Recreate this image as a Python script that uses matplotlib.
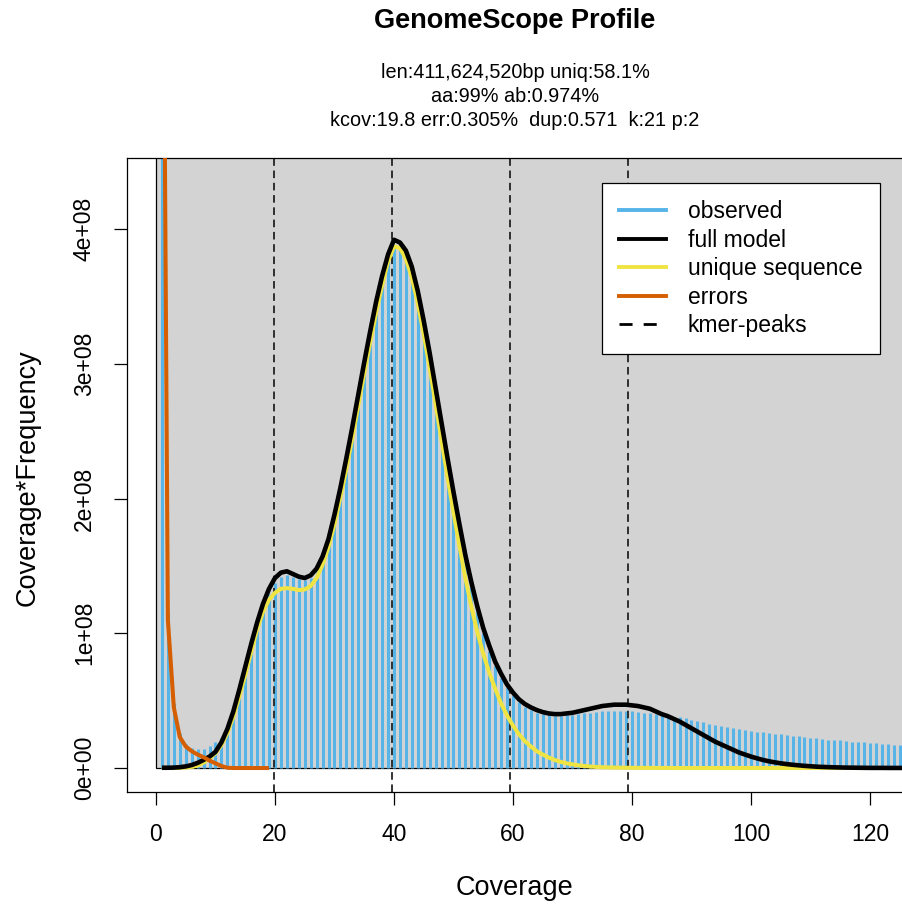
import matplotlib
matplotlib.use("Agg")
import matplotlib.pyplot as plt
from matplotlib.lines import Line2D
from matplotlib.patches import Rectangle

plt.rcParams['font.family'] = ['Liberation Sans', 'DejaVu Sans']

# GenomeScope colours
COLOR_BG = '#D3D3D3'
COLOR_HIST = '#56B4E9'
COLOR_FULL = 'black'
COLOR_UNIQUE = '#F0E442'
COLOR_ERRORS = '#D55E00'

title = "GenomeScope Profile"
summary = ["len:411,624,520bp uniq:58.1%",
           "aa:99% ab:0.974%",
           "kcov:19.8 err:0.305%  dup:0.571  k:21 p:2"]

kcov = 19.84
peak_multiples = [1, 2, 3, 4]

# coverage 1..126, values are coverage*frequency in millions
coverage = list(range(1, 127))
observed = [
    1000, 115, 48, 26, 18, 15, 14, 14, 16, 19,
    22, 30, 40, 55, 71, 88, 104, 118, 129, 137,
    142, 143, 142, 140, 139.5, 141, 146, 155, 168, 185,
    204, 225, 248, 272, 296, 319, 341, 360, 376, 387,
    386, 380, 367, 349, 328, 304, 278, 252, 226, 201,
    177, 154, 134, 116, 100, 87, 76, 67, 60, 54,
    49, 45.5, 43, 41, 40, 39, 38.5, 38.5, 39, 39.5,
    40, 40.5, 41, 41.5, 42, 42, 42.5, 42.5, 42.5, 42,
    41.5, 41, 40.5, 40, 39.5, 39, 38, 37.5, 37, 36,
    35, 34, 33, 32, 31.5, 30.5, 29.5, 29, 28, 27.5,
    27, 26.5, 26, 25.5, 25, 24.5, 24, 23.5, 23, 22.5,
    22, 21.5, 21, 20.8, 20.5, 20, 19.5, 19.2, 19, 18.6,
    18.3, 18, 17.6, 17.3, 17, 16.8]
full_model = [
    0.2, 0.2, 0.3, 0.6, 1.2, 2.2, 3.8, 6, 8.5, 12,
    19, 29, 42, 58, 75, 92, 108, 122, 133, 141,
    145, 146, 144, 142, 141, 143, 148, 157, 170, 188,
    208, 230, 253, 277, 301, 324, 346, 365, 381, 392,
    390, 384, 372, 354, 332, 308, 282, 256, 230, 205,
    181, 158, 138, 120, 104, 91, 79, 70, 62, 56,
    51, 47.5, 45, 43, 41.5, 40.5, 40, 40, 40.5, 41,
    42, 43, 44, 45, 46, 46.5, 47, 47, 47, 46.5,
    46, 45, 44, 42, 40, 38.5, 36.5, 34.5, 32, 29.5,
    27, 24.5, 22, 19.5, 17.5, 15.5, 13.5, 11.5, 10, 8.5,
    7.2, 6, 5, 4.2, 3.5, 2.9, 2.4, 2, 1.6, 1.3,
    1.0, 0.8, 0.65, 0.5, 0.4, 0.3, 0.25, 0.2, 0.15, 0.1,
    0.1, 0.1, 0.05, 0.05, 0.05, 0.05]
unique_seq = [
    0, 0, 0, 0.1, 0.3, 0.8, 1.8, 4, 7, 11,
    17, 26, 38, 53, 69, 86, 103, 116, 125, 130,
    133, 133.5, 133, 132, 132.5, 135, 141, 151, 164, 181,
    201, 222, 245, 269, 293, 316, 338, 358, 376, 387,
    386, 378, 364, 345, 322, 297, 270, 243, 216, 190,
    165, 141, 120, 101, 85, 71, 59, 48, 39, 31.5,
    25, 20, 16, 12.5, 10, 7.8, 6, 4.6, 3.5, 2.7,
    2, 1.5, 1.1, 0.8, 0.6, 0.45, 0.35, 0.25, 0.2, 0.15,
    0.1, 0.1, 0.1, 0.05, 0.05, 0.05, 0, 0, 0, 0,
    0, 0, 0, 0, 0, 0, 0, 0, 0, 0,
    0, 0, 0, 0, 0, 0, 0, 0, 0, 0,
    0, 0, 0, 0, 0, 0, 0, 0, 0, 0,
    0, 0, 0, 0, 0, 0]
error_coverage = list(range(1, 20))
errors = [800, 110, 45, 23, 16, 12.5, 10, 8, 5.5, 3.5,
          1.5, 0.2, 0, 0, 0, 0, 0, 0, 0]

xticks = [0, 20, 40, 60, 80, 100, 120]
yticks = [0, 1e8, 2e8, 3e8, 4e8]


def scaled(values):
    return [v * 1e6 for v in values]


W, H = 903, 911
fig = plt.figure(figsize=(W / 100, H / 100), dpi=100)
# right edge of the box falls just outside the picture, like the reference
ax = fig.add_axes([127 / W, (H - 792) / H, (911 - 127) / W, (792 - 158) / H])
ax.set_xlim(-4.87, 126.9)
ax.set_ylim(-17.8e6, 452.7e6)

# grey panel with black border starting at (0, 0)
ax.add_patch(Rectangle((0, 0), 200, 2e9, facecolor=COLOR_BG,
                       edgecolor='black', linewidth=0.9, zorder=0))

# observed histogram as thin vertical bars
ax.vlines(coverage, 0, scaled(observed), colors=COLOR_HIST,
          linewidth=2.2, zorder=1)

# kmer peaks
for m in peak_multiples:
    ax.axvline(kcov * m, color='#222222', linewidth=1.3,
               dashes=(4.2, 2.6), zorder=2)

ax.plot(coverage, scaled(unique_seq), color=COLOR_UNIQUE, linewidth=2.9,
        solid_capstyle='butt', zorder=3)
ax.plot(coverage, scaled(full_model), color=COLOR_FULL, linewidth=3.3,
        solid_capstyle='butt', zorder=4)
ax.plot(error_coverage, scaled(errors), color=COLOR_ERRORS, linewidth=2.9,
        solid_capstyle='butt', zorder=5)

# axes and ticks
ax.set_xticks(xticks)
ax.set_xticklabels([str(t) for t in xticks])
ax.set_yticks(yticks)
ax.set_yticklabels([f"{t:.0e}" for t in yticks], rotation=90, va='center')
ax.tick_params(direction='out', length=9.4, width=0.9, labelsize=16.5,
               pad=13)
for side in ['left', 'bottom', 'top', 'right']:
    ax.spines[side].set_linewidth(0.9)

ax.set_xlabel("Coverage", fontsize=19.5)
ax.xaxis.set_label_coords((515 - 127) / 784, (792 - 888) / 634)
ax.xaxis.label.set_va('center')
ax.set_ylabel("Coverage*Frequency", fontsize=19.5)
ax.yaxis.set_label_coords((28 - 127) / 784, (792 - 478) / 634)
ax.yaxis.label.set_va('center')

# titles
fig.text(515 / W, 1 - 21 / H, title, ha='center', va='center',
         fontsize=19.5, fontweight='bold')
for i, line in enumerate(summary):
    fig.text(515 / W, 1 - (72 + 24 * i) / H, line, ha='center',
             va='center', fontsize=14.3)

# legend
handles = [
    Line2D([], [], color=COLOR_HIST, linewidth=2.8),
    Line2D([], [], color=COLOR_FULL, linewidth=2.8),
    Line2D([], [], color=COLOR_UNIQUE, linewidth=2.8),
    Line2D([], [], color=COLOR_ERRORS, linewidth=2.8),
    Line2D([], [], color='black', linewidth=2.0, dashes=(4.7, 4.0)),
]
labels = ["observed", "full model", "unique sequence", "errors", "kmer-peaks"]
leg = ax.legend(handles, labels, loc='upper left',
                bbox_to_anchor=((602 - 127) / 784, (792 - 183) / 634),
                borderaxespad=0, fontsize=16.5, frameon=True, fancybox=False,
                framealpha=1, edgecolor='black', handlelength=2.05,
                handletextpad=0.95, labelspacing=0.24, borderpad=0.75)
leg.get_frame().set_linewidth(0.9)
leg.set_zorder(10)

fig.savefig("out.png", dpi=100)
